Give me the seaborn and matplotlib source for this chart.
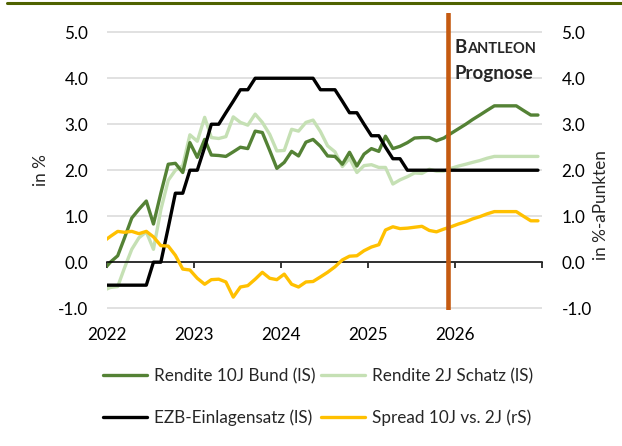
import pandas as pd
import matplotlib
matplotlib.use("Agg")
import matplotlib.pyplot as plt
import matplotlib.dates as mdates
from matplotlib.lines import Line2D
import seaborn as sns

# =========================
# 1. DATEN (Monatswerte Dez 2021 - Dez 2026, ab Dez 2025 Prognose)
# =========================
monate = pd.date_range("2021-12-01", "2026-12-01", freq="MS") + pd.Timedelta(days=14)

rendite_10j = [-0.18, 0.00, 0.14, 0.52, 0.96, 1.15, 1.33, 0.83, 1.50, 2.13,
               2.15, 1.95, 2.60, 2.28, 2.67, 2.33, 2.32, 2.30, 2.40, 2.50,
               2.47, 2.85, 2.82, 2.43, 2.04, 2.17, 2.41, 2.31, 2.61, 2.67,
               2.52, 2.31, 2.30, 2.13, 2.39, 2.09, 2.35, 2.47, 2.41, 2.74,
               2.47, 2.52, 2.60, 2.70, 2.71, 2.71, 2.64, 2.70, 2.80, 2.90,
               3.00, 3.10, 3.20, 3.30, 3.40, 3.40, 3.40, 3.40, 3.30, 3.20, 3.20]

rendite_2j = [-0.62, -0.55, -0.53, -0.13, 0.28, 0.53, 0.66, 0.28, 1.14, 1.78,
              2.00, 2.10, 2.77, 2.63, 3.15, 2.71, 2.69, 2.73, 3.16, 3.04,
              2.98, 3.22, 3.04, 2.78, 2.42, 2.43, 2.89, 2.85, 3.04, 3.09,
              2.84, 2.53, 2.40, 2.08, 2.26, 1.95, 2.10, 2.12, 2.06, 2.06,
              1.70, 1.79, 1.86, 1.94, 1.93, 2.02, 1.98, 1.98, 2.04, 2.09,
              2.13, 2.17, 2.21, 2.26, 2.30, 2.30, 2.30, 2.30, 2.30, 2.30, 2.30]

ezb_einlage = [-0.5, -0.5, -0.5, -0.5, -0.5, -0.5, -0.5, 0.0, 0.0, 0.75,
               1.5, 1.5, 2.0, 2.0, 2.5, 3.0, 3.0, 3.25, 3.5, 3.75,
               3.75, 4.0, 4.0, 4.0, 4.0, 4.0, 4.0, 4.0, 4.0, 4.0,
               3.75, 3.75, 3.75, 3.5, 3.25, 3.25, 3.0, 2.75, 2.75, 2.5,
               2.25, 2.25, 2.0, 2.0, 2.0, 2.0, 2.0, 2.0, 2.0, 2.0,
               2.0, 2.0, 2.0, 2.0, 2.0, 2.0, 2.0, 2.0, 2.0, 2.0, 2.0]

spread_10j_2j = [0.44, 0.56, 0.67, 0.65, 0.67, 0.62, 0.67, 0.55, 0.36, 0.35,
                 0.15, -0.15, -0.17, -0.35, -0.48, -0.38, -0.37, -0.43, -0.76, -0.54,
                 -0.51, -0.37, -0.22, -0.35, -0.38, -0.26, -0.48, -0.54, -0.43, -0.42,
                 -0.32, -0.22, -0.10, 0.05, 0.13, 0.14, 0.25, 0.33, 0.38, 0.70,
                 0.77, 0.73, 0.74, 0.76, 0.78, 0.69, 0.66, 0.72, 0.77, 0.83,
                 0.88, 0.94, 0.99, 1.05, 1.10, 1.10, 1.10, 1.10, 1.00, 0.90, 0.90]

jahre = ["2022", "2023", "2024", "2025", "2026"]
y_ticks = [-1, 0, 1, 2, 3, 4, 5]
prognose_start = pd.Timestamp("2025-12-01")

dados = pd.DataFrame({
    "Datum": monate,
    "Rendite 10J Bund (lS)": rendite_10j,
    "Rendite 2J Schatz (lS)": rendite_2j,
    "EZB-Einlagensatz (lS)": ezb_einlage,
    "Spread 10J vs. 2J (rS)": spread_10j_2j,
})

# =========================
# 2. STIL
# =========================
sns.set_theme(style="white")
plt.rcParams["font.family"] = ["Lato", "DejaVu Sans"]
plt.rcParams["axes.unicode_minus"] = False
schrift = 12.3

farbe_10j = "#548235"
farbe_2j = "#c5e0b4"
farbe_ezb = "#000000"
farbe_spread = "#ffc000"
farbe_prognose = "#c55a11"

# =========================
# 3. GRAFIK
# =========================
fig = plt.figure(figsize=(6.22, 4.46), dpi=100)
ax = fig.add_axes([107 / 622, 1 - 310 / 446, 435 / 622, 297.5 / 446])

sns.lineplot(data=dados, x="Datum", y="Rendite 2J Schatz (lS)", ax=ax,
             color=farbe_2j, lw=2.4, label="Rendite 2J Schatz (lS)")
sns.lineplot(data=dados, x="Datum", y="Rendite 10J Bund (lS)", ax=ax,
             color=farbe_10j, lw=2.4, label="Rendite 10J Bund (lS)")
sns.lineplot(data=dados, x="Datum", y="EZB-Einlagensatz (lS)", ax=ax,
             color=farbe_ezb, lw=2.4, label="EZB-Einlagensatz (lS)")

ax2 = ax.twinx()
sns.lineplot(data=dados, x="Datum", y="Spread 10J vs. 2J (rS)", ax=ax2,
             color=farbe_spread, lw=2.4, label="Spread 10J vs. 2J (rS)")
ax2.axvline(prognose_start, color=farbe_prognose, lw=3.3, zorder=5)

# Achsen
jahr_ticks = [pd.Timestamp(f"{j}-01-01") for j in range(2022, 2028)]
for a in (ax, ax2):
    a.set_ylim(-1.04, 5.43)
    a.set_yticks(y_ticks)
    a.set_yticklabels([f"{v:.1f}" for v in y_ticks])
    a.set_xlim(jahr_ticks[0], jahr_ticks[-1])
    a.set_xlabel("")
    a.set_ylabel("")
    for s in ["left", "right", "top"]:
        a.spines[s].set_visible(False)
ax2.spines["bottom"].set_visible(False)

ax.yaxis.grid(True, color="#d9d9d9", lw=1.1)
ax.xaxis.grid(False)
ax.set_axisbelow(True)
ax.tick_params(axis="y", length=0, pad=13.5, labelsize=schrift, labelcolor="black")
ax2.tick_params(axis="y", length=0, pad=14, labelsize=schrift, labelcolor="black")

# x-Achse als Nulllinie mit Jahres-Ticks
ax.spines["bottom"].set_position(("data", 0))
ax.spines["bottom"].set_color("black")
ax.spines["bottom"].set_linewidth(1.1)
ax.set_xticks(jahr_ticks)
ax.tick_params(axis="x", direction="out", length=4, width=1.1, color="black",
               bottom=True, labelbottom=False)

sek = ax.secondary_xaxis(0)
sek.set_xticks(mdates.date2num(jahr_ticks[:5]), labels=jahre)
sek.tick_params(length=0, pad=12, labelsize=schrift, labelcolor="black")
sek.spines["bottom"].set_visible(False)

# Achsentitel
fig.text(41 / 622, 1 - 170 / 446, "in %", rotation=90, ha="center", va="center",
         fontsize=schrift)
fig.text(601 / 622, 1 - 205 / 446, "in %-aPunkten", rotation=90, ha="center",
         va="center", fontsize=schrift)

# Prognose-Beschriftung (Kapitälchen)
t1 = fig.text(455 / 622, 1 - 53 / 446, "B", fontsize=13.5, fontweight="bold",
              va="baseline")
fig.canvas.draw()
bb = t1.get_window_extent()
fig.text(bb.x1 / 622, 1 - 53 / 446, "ANTLEON", fontsize=10.5, fontweight="bold",
         va="baseline")
fig.text(455 / 622, 1 - 79 / 446, "Prognose", fontsize=13.5, fontweight="bold",
         va="baseline")

# Linie oben
fig.add_artist(Line2D([7 / 622, 1], [1 - 3 / 446, 1 - 3 / 446],
                      transform=fig.transFigure, color="#4f6200", lw=2.2))

# Legende
h1, l1 = ax.get_legend_handles_labels()
h2, l2 = ax2.get_legend_handles_labels()
ax.get_legend().remove()
ax2.get_legend().remove()
mapa = dict(zip(l1 + l2, h1 + h2))
ordem = ["Rendite 10J Bund (lS)", "EZB-Einlagensatz (lS)",
         "Rendite 2J Schatz (lS)", "Spread 10J vs. 2J (rS)"]
fig.legend([mapa[k] for k in ordem], ordem, ncol=2, loc="upper left",
           bbox_to_anchor=(103 / 622, 1 - 368 / 446), frameon=False,
           fontsize=schrift, handlelength=2.6, handletextpad=0.4,
           columnspacing=0.3, labelspacing=1.5, borderpad=0, borderaxespad=0)

fig.savefig("out.png", dpi=100)
